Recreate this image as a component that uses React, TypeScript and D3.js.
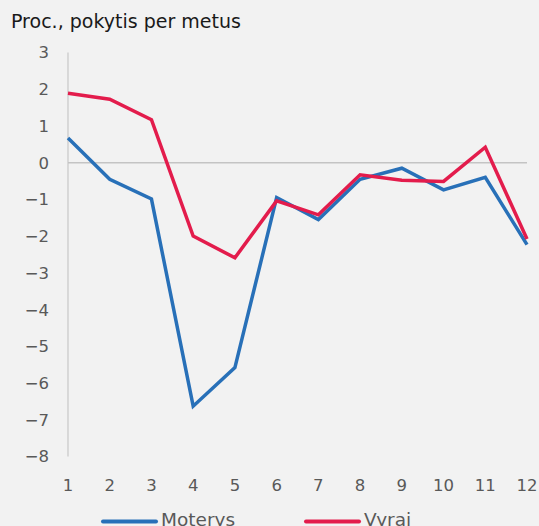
import * as d3 from 'd3';

const months = [1, 2, 3, 4, 5, 6, 7, 8, 9, 10, 11, 12];
const moterys = [0.67, -0.45, -0.99, -6.63, -5.58, -0.95, -1.55, -0.45, -0.15, -0.74, -0.4, -2.23];
const vyrai = [1.89, 1.73, 1.17, -2.0, -2.59, -1.04, -1.42, -0.33, -0.48, -0.51, 0.42, -2.08];
const yTicks = [3, 2, 1, 0, -1, -2, -3, -4, -5, -6, -7, -8];

const W = 539;
const H = 526;
const FONT = 'DejaVu Sans, Verdana, sans-serif';
const BLUE = '#2870b8';
const RED = '#e31c4c';

const App = () => {
  const x = d3.scaleLinear().domain([1, 12]).range([68, 527]);
  const y = d3.scaleLinear().domain([3, -8]).range([52.5, 456.5]);

  const line = d3.line<number>()
    .x((_, i) => x(months[i]))
    .y(d => y(d));

  const series = [
    { name: 'Moterys', values: moterys, color: BLUE, lx: 103 },
    { name: 'Vyrai', values: vyrai, color: RED, lx: 306 },
  ];

  return (
    <svg width={W} height={H} style={{ position: 'absolute', left: 0, top: 0 }}>
      <rect width={W} height={H} fill="#f2f2f2" />
      <text x={11} y={27.5} fontFamily={FONT} fontSize={19} fill="#1a1a1a">
        Proc., pokytis per metus
      </text>

      {/* axes */}
      <line x1={x(1)} x2={x(1)} y1={y(3)} y2={y(-8)} stroke="#bfbfbf" strokeWidth={1} />
      <line x1={x(1)} x2={x(12)} y1={y(0)} y2={y(0)} stroke="#c4c4c4" strokeWidth={1.5} />

      {yTicks.map(t => (
        <text key={t} x={49} y={y(t)} dy="0.36em" textAnchor="end"
          fontFamily={FONT} fontSize={16.5} fill="#595959">
          {t < 0 ? `\u2212${-t}` : t}
        </text>
      ))}

      {months.map(m => (
        <text key={m} x={x(m)} y={485} dy="0.36em" textAnchor="middle"
          fontFamily={FONT} fontSize={16.5} fill="#595959">
          {m}
        </text>
      ))}

      {series.map(s => (
        <path key={s.name} d={line(s.values) || ''} fill="none" stroke={s.color}
          strokeWidth={3.5} strokeLinejoin="miter" />
      ))}

      {series.map(s => (
        <g key={s.name + '-leg'}>
          <line x1={s.lx} x2={s.lx + 53} y1={521.5} y2={521.5} stroke={s.color}
            strokeWidth={4} strokeLinecap="round" />
          <text x={s.lx + 58} y={525.5} fontFamily={FONT} fontSize={18.5} fill="#595959">
            {s.name}
          </text>
        </g>
      ))}
    </svg>
  );
};

export default App;
